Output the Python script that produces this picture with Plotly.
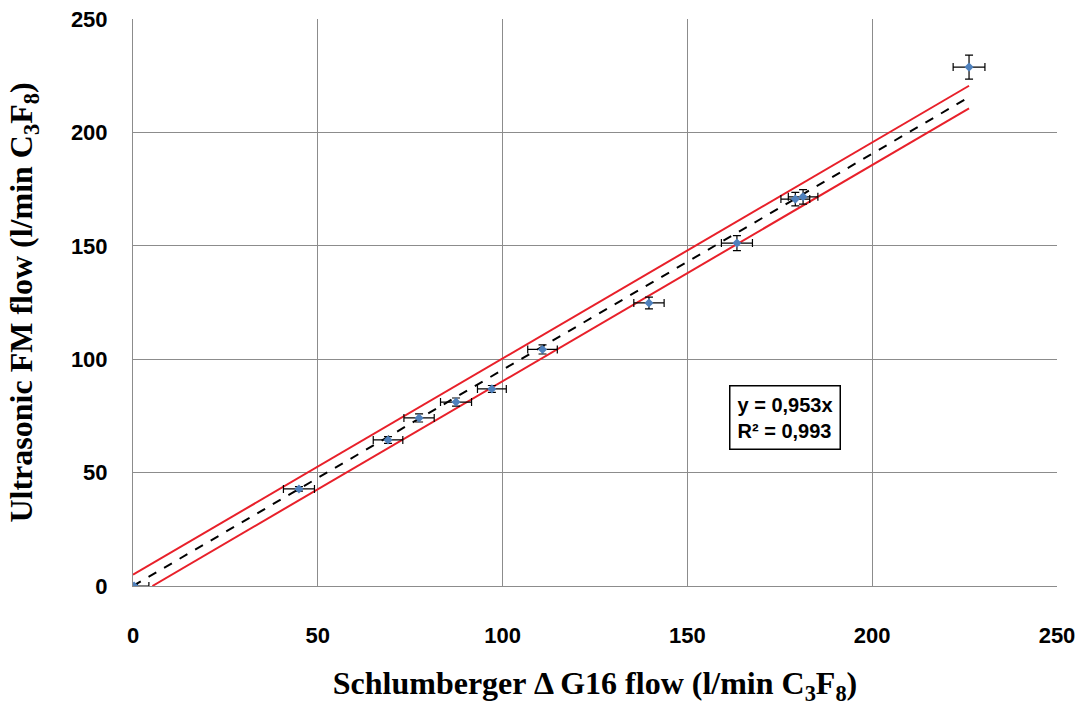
import plotly.graph_objects as go

# Data
x_vals = [0.3, 44.9, 69.0, 77.4, 87.4, 97.1, 110.8, 139.6, 163.4, 179.2, 181.3, 226.2]
y_vals = [0.0, 42.8, 64.4, 74.1, 81.1, 86.9, 104.3, 124.8, 151.2, 170.6, 171.6, 228.8]
x_err = [4.0, 4.2, 4.0, 4.1, 4.2, 3.9, 4.0, 4.1, 4.2, 3.9, 4.0, 4.3]
y_err = [0.8, 1.0, 1.5, 1.8, 1.8, 1.5, 2.0, 2.6, 3.3, 3.0, 3.2, 5.3]

slope = 0.953
band = 5.0
fit_x = [0.0, 226.2]
up_x = [0.0, 226.2]
lo_x = [band / slope, 226.2]

fig = go.Figure()

fig.add_trace(go.Scatter(
    x=up_x, y=[slope * v + band for v in up_x], mode="lines",
    line=dict(color="#E8202A", width=2), showlegend=False, hoverinfo="skip"))
fig.add_trace(go.Scatter(
    x=lo_x, y=[slope * v - band for v in lo_x], mode="lines",
    line=dict(color="#E8202A", width=2), showlegend=False, hoverinfo="skip"))
fig.add_trace(go.Scatter(
    x=fit_x, y=[slope * v for v in fit_x], mode="lines",
    line=dict(color="black", width=2, dash="dash"), showlegend=False, hoverinfo="skip"))

fig.add_trace(go.Scatter(
    x=x_vals, y=y_vals, mode="markers",
    marker=dict(symbol="diamond", size=7, color="#4F81BD"),
    error_x=dict(type="data", array=x_err, color="black", thickness=1.2, width=4),
    error_y=dict(type="data", array=y_err, color="black", thickness=1.2, width=4),
    showlegend=False))

fig.add_annotation(
    x=0.645, y=0.355, xref="paper", yref="paper", xanchor="left", yanchor="top",
    text="<b>y = 0,953x<br>R² = 0,993</b>", showarrow=False, align="left",
    font=dict(family="Liberation Sans", size=20, color="black"),
    bordercolor="black", borderwidth=1.5, borderpad=7, bgcolor="white")

fig.update_layout(
    width=1085, height=709,
    margin=dict(l=133, r=28, t=19, b=123, autoexpand=False),
    paper_bgcolor="white", plot_bgcolor="white",
    xaxis=dict(
        range=[0, 250], tickvals=[0, 50, 100, 150, 200, 250],
        ticktext=["<b>0</b>", "<b>50</b>", "<b>100</b>", "<b>150</b>", "<b>200</b>", "<b>250</b>"],
        showgrid=True, gridcolor="#8C8C8C", gridwidth=1,
        showline=True, linecolor="#8C8C8C", linewidth=1, automargin=False,
        zeroline=False, ticks="", ticklabelstandoff=30,
        tickfont=dict(family="Liberation Sans", size=22, color="black"),
        title=dict(text="<b>Schlumberger Δ G16 flow (l/min C<sub>3</sub>F<sub>8</sub>)</b>",
                   font=dict(family="Liberation Serif", size=32, color="black"), standoff=24)),
    yaxis=dict(
        range=[0, 250], tickvals=[0, 50, 100, 150, 200, 250],
        ticktext=["<b>0</b>", "<b>50</b>", "<b>100</b>", "<b>150</b>", "<b>200</b>", "<b>250</b>"],
        showgrid=True, gridcolor="#8C8C8C", gridwidth=1,
        showline=True, linecolor="#8C8C8C", linewidth=1, automargin=False,
        zeroline=False, ticks="", ticklabelstandoff=20,
        tickfont=dict(family="Liberation Sans", size=22, color="black"),
        title=dict(text="<b>Ultrasonic FM flow (l/min C<sub>3</sub>F<sub>8</sub>)</b>",
                   font=dict(family="Liberation Serif", size=32, color="black"), standoff=28)),
)

fig.write_html("out.html")
